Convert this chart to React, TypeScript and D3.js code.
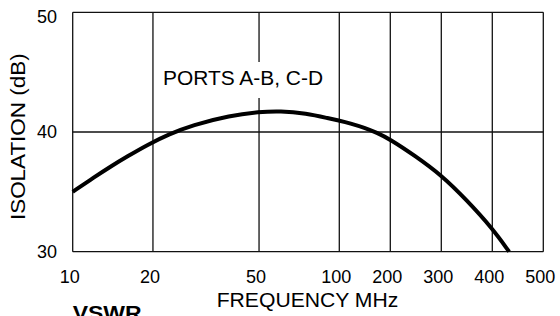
import React from "react";
import * as d3 from "d3";

// ---- data ----
const xTicks = [10, 20, 50, 100, 200, 300, 400, 500];
const yTicks = [30, 40, 50];
const freqMHz = [10, 12, 14, 16, 19.2, 23, 28, 39, 50, 60, 75, 92, 100, 121, 150, 173, 200, 248, 300, 350, 400, 433];
const isolationDb = [35.0, 36.2, 37.17, 37.95, 38.97, 39.82, 40.57, 41.38, 41.68, 41.76, 41.56, 41.12, 40.95, 40.73, 40.35, 39.95, 39.38, 38.02, 36.4, 34.3, 31.95, 30.0];
const curveLabel = "PORTS A-B, C-D";
const xTitle = "FREQUENCY MHz";
const yTitle = "ISOLATION (dB)";
const nextTitle = "VSWR";

const W = 560;
const H = 316;
const M = { left: 72.7, right: 16.7, top: 12.3, bottom: 64.3 };
const FONT = "'Liberation Sans', Arial, Helvetica, sans-serif";

export default function App() {
  const x0 = M.left;
  const x1 = W - M.right;
  const plotW = x1 - x0;
  const xSplit = x0 + plotW * 0.5665;
  const xLog = d3.scaleLog().domain([10, 100]).range([x0, xSplit]);
  const xLin = d3.scaleLinear().domain([100, 500]).range([xSplit, x1]);
  const x = (f: number) => (f <= 100 ? xLog(f) : xLin(f));
  const y = d3.scaleLinear().domain([30, 50]).range([H - M.bottom, M.top]);

  const pts: [number, number][] = freqMHz.map((f, i) => [x(f), y(isolationDb[i])]);
  const line = d3
    .line<[number, number]>()
    .x((d) => d[0])
    .y((d) => d[1])
    .curve(d3.curveBasis);

  const gridStroke = "#111";
  const gw = 1.3;

  return (
    <svg
      width={W}
      height={H}
      style={{ position: "absolute", left: 0, top: 0, background: "#fff" }}
      fontFamily={FONT}
    >
      <rect x={0} y={0} width={W} height={H} fill="#fff" />
      {xTicks.map((t) => (
        <line key={"v" + t} x1={x(t)} x2={x(t)} y1={y(30)} y2={y(50)} stroke={gridStroke} strokeWidth={gw} />
      ))}
      {yTicks.map((t) => (
        <line key={"h" + t} x1={x0} x2={x1} y1={y(t)} y2={y(t)} stroke={gridStroke} strokeWidth={gw} />
      ))}
      <rect x={155} y={62} width={178} height={36} fill="#fff" />
      <text x={163} y={84.5} fontSize={19.5} textLength={160} lengthAdjust="spacingAndGlyphs" fill="#000">
        {curveLabel}
      </text>
      <path d={line(pts) || ""} fill="none" stroke="#000" strokeWidth={4} strokeLinecap="butt" />
      {xTicks.map((t) => (
        <text key={"xl" + t} x={x(t) - 3} y={283} fontSize={18} textAnchor="middle" fill="#000">
          {t}
        </text>
      ))}
      {yTicks.map((t) => (
        <text key={"yl" + t} x={57} y={y(t) + (t === 50 ? 4.5 : 0)} dy="0.35em" fontSize={18} textAnchor="end" fill="#000">
          {t}
        </text>
      ))}
      <text x={216.7} y={306.5} fontSize={19.5} textLength={181.6} lengthAdjust="spacingAndGlyphs" fill="#000">
        {xTitle}
      </text>
      <text
        transform={`translate(25,136.7) rotate(-90)`}
        textAnchor="middle"
        fontSize={19.5}
        textLength={166.7}
        lengthAdjust="spacingAndGlyphs"
        fill="#000"
      >
        {yTitle}
      </text>
      <text x={72.7} y={319.5} fontSize={20} fontWeight="bold" textLength={69} lengthAdjust="spacingAndGlyphs" fill="#000">
        {nextTitle}
      </text>
    </svg>
  );
}
